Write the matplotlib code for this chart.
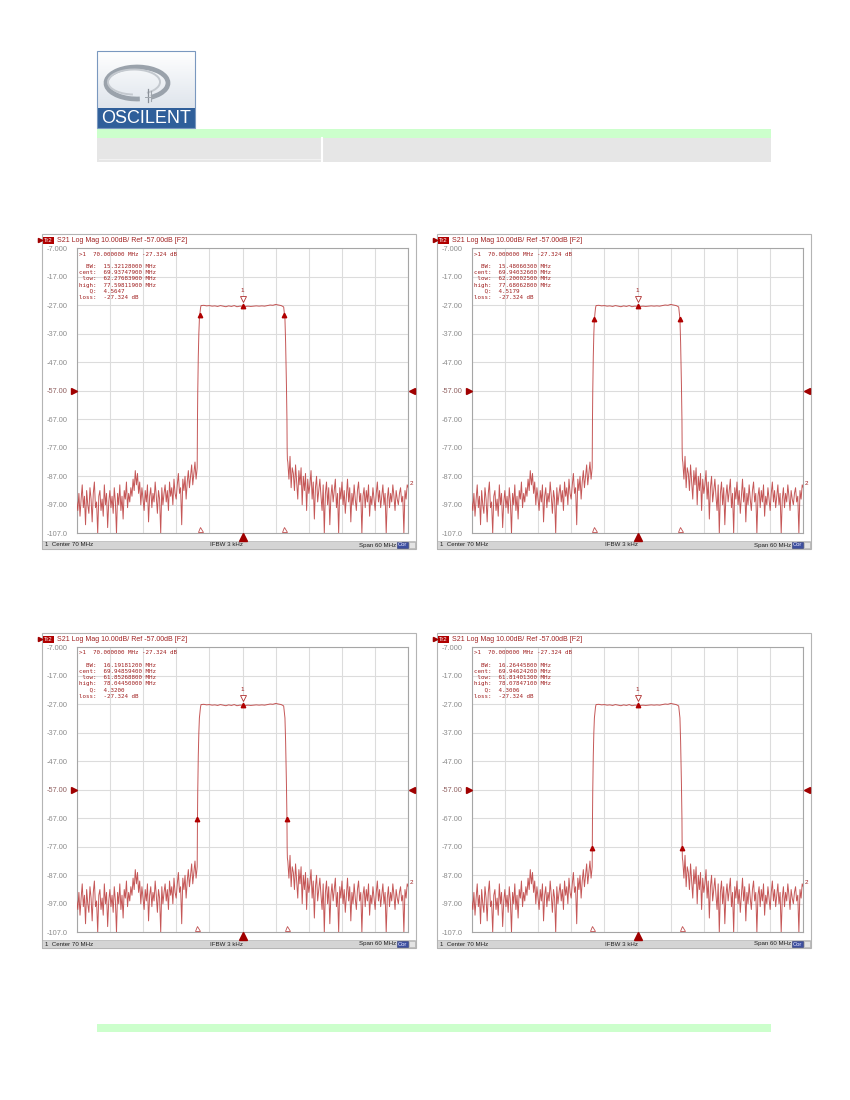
import numpy as np
import matplotlib
matplotlib.use('Agg')
import matplotlib.pyplot as plt
from matplotlib.patches import Rectangle, Arc
from matplotlib.transforms import blended_transform_factory

# ---------------- data ----------------
LEFT_F0, LEFT_F1 = 40.0, 61.8
LEFT_NOISE = [
    -96, -99, -93, -101, -95, -90, -98, -94, -104, -92,
    -97, -100, -91, -95, -103, -93, -89, -98, -96, -107,
    -94, -92, -99, -95, -101, -90, -97, -93, -105, -96,
    -92, -98, -94, -100, -91, -96, -107, -93, -97, -90,
    -99, -94, -102, -92, -95, -89, -98, -93, -96, -91,
    -94, -88, -92, -85, -90, -86, -93, -89, -97, -91,
    -95, -99, -92, -96, -90, -103, -94, -91, -98, -93,
    -96, -89, -94, -100, -92, -95, -107, -91, -97, -93,
    -90, -96, -92, -99, -89, -94, -91, -97, -88, -93,
    -95, -90, -86, -93, -91, -104, -88, -92, -87, -95,
    -89, -85, -91, -87, -83, -90, -86, -82, -88, -84,
]
SKIRT_L_F = [61.814, 61.853, 61.90, 62.00, 62.10, 62.200, 62.277, 62.40]
SKIRT_L_V = [-77.3, -67.3, -58.0, -45.0, -37.0, -31.8, -30.3, -28.0]
PASS_F = [62.5, 63.0, 63.5, 64.0, 64.5, 65.0, 65.5, 66.0, 66.5, 67.0, 67.5,
          68.0, 68.5, 69.0, 69.5, 70.0, 70.5, 71.0, 71.5, 72.0, 72.5, 73.0,
          73.5, 74.0, 74.5, 75.0, 75.5, 76.0, 76.5, 77.0, 77.3]
PASS_V = [-27.1, -27.0, -27.2, -27.1, -27.3, -27.2, -27.4, -27.1, -27.3, -27.5,
          -27.2, -27.4, -27.1, -27.5, -27.3, -27.32, -27.4, -27.3, -27.4, -27.3,
          -27.2, -27.3, -27.2, -27.3, -27.1, -26.9, -27.0, -26.7, -26.9, -27.1,
          -27.4]
SKIRT_R_F = [77.45, 77.598, 77.681, 77.80, 77.95, 78.044, 78.078, 78.12]
SKIRT_R_V = [-27.6, -30.3, -31.8, -40.0, -55.0, -67.3, -77.3, -81.0]
RIGHT_F0, RIGHT_F1 = 78.2, 100.0
RIGHT_NOISE = [
    -82, -88, -80, -91, -84, -86, -92, -83, -89, -95,
    -85, -90, -84, -97, -87, -92, -86, -99, -88, -93,
    -90, -85, -95, -89, -102, -91, -87, -96, -92, -88,
    -94, -99, -90, -107, -93, -89, -97, -91, -104, -94,
    -90, -96, -92, -88, -98, -93, -107, -91, -95, -89,
    -97, -92, -100, -94, -88, -96, -91, -103, -93, -97,
    -90, -95, -99, -92, -89, -96, -93, -107, -94, -91,
    -98, -92, -96, -90, -101, -94, -97, -91, -95, -99,
    -93, -89, -96, -92, -98, -94, -90, -97, -93, -107,
    -95, -91, -98, -93, -96, -90, -94, -99, -92, -95,
    -97, -93, -91, -96, -94, -107, -92, -95, -90, -91,
]

MARKER1_F = 70.0
MARKER1_V = -27.324
PANEL_BW = ["15.32128000", "15.48060300", "16.19181200", "16.26445800"]
PANEL_CENT = ["69.93747900", "69.94032600", "69.94859400", "69.94624200"]
PANEL_LOW = ["62.27683900", "62.20002500", "61.85268800", "61.81401300"]
PANEL_HIGH = ["77.59811900", "77.68062800", "78.04450000", "78.07847100"]
PANEL_Q = ["4.5647", "4.5179", "4.3200", "4.3006"]
PANEL_LEVEL = [-30.3, -31.8, -67.3, -77.3]
YTICKS = [-107, -97, -87, -77, -67, -57, -47, -37, -27, -17, -7]
YTICK_LABELS = ["-107.0", "-97.00", "-87.00", "-77.00", "-67.00", "-57.00",
                "-47.00", "-37.00", "-27.00", "-17.00", "-7.000"]

# ---------------- figure ----------------
W, H = 850, 1100
fig = plt.figure(figsize=(8.5, 11), dpi=100)
page = fig.add_axes([0, 0, 1, 1])
page.set_xlim(0, W)
page.set_ylim(H, 0)
page.axis('off')

DARK = '#a00000'
TXT = '#a02020'

# header bands
page.add_patch(Rectangle((97, 129), 674, 9, fc='#ccffcc', ec='none'))
page.add_patch(Rectangle((97, 138), 674, 24, fc='#e6e6e6', ec='none'))
page.plot([322.5, 322.5], [138, 162], color='white', lw=1.5)
page.plot([99, 320], [158.5, 158.5], color='#f2f2f2', lw=0.8)
page.add_patch(Rectangle((97, 1024), 674, 8, fc='#ccffcc', ec='none'))

# logo
grad = np.linspace(0, 1, 64).reshape(-1, 1)
page.imshow(grad, extent=[97, 195, 108, 51], cmap=matplotlib.colors.LinearSegmentedColormap.from_list(
    'g', ['#ffffff', '#dfe5ec']), aspect='auto', zorder=1)
page.add_patch(Rectangle((97, 108), 98, 19.5, fc='#2f5f9a', ec='none', zorder=2))
page.add_patch(Rectangle((97, 51), 98, 76.5, fc='none', ec='#7a98bf', lw=0.8, zorder=3))
page.text(146, 118.5, "OSCILENT", color='white', fontsize=13, family='Liberation Sans',
          ha='center', va='center', zorder=4)
page.add_patch(Arc((137, 83), 62, 32, theta1=80, theta2=405, color='#9aa2ab', lw=3.4, zorder=3))
page.add_patch(Arc((134, 82), 52, 25, theta1=95, theta2=400, color='#c4c9cf', lw=1.4, zorder=3))
page.plot([148, 148], [89, 102], color='#8a9098', lw=0.9, zorder=4)
page.plot([151, 151], [91, 101], color='#a0a6ad', lw=0.8, zorder=4)
page.plot([145, 155], [97, 97], color='#a0a6ad', lw=0.7, zorder=4)

# trace
freq = np.concatenate([np.linspace(LEFT_F0, LEFT_F1, len(LEFT_NOISE)), SKIRT_L_F, PASS_F,
                       SKIRT_R_F, np.linspace(RIGHT_F0, RIGHT_F1, len(RIGHT_NOISE))])
vals = np.concatenate([LEFT_NOISE, SKIRT_L_V, PASS_V, SKIRT_R_V, RIGHT_NOISE])

PX = [42, 437, 42, 437]
PY = [234, 234, 633, 633]
PW, PH = 374, 315

txt_ax = fig.add_axes([0, 0, 1, 1], zorder=20)
txt_ax.set_xlim(0, W)
txt_ax.set_ylim(H, 0)
txt_ax.axis('off')
txt_ax.patch.set_alpha(0)

for i in range(4):
    x0, y0 = PX[i], PY[i]
    # frame
    page.add_patch(Rectangle((x0, y0), PW, PH, fc='white', ec='#b4b4b4', lw=0.8, zorder=1))
    # status bar
    page.add_patch(Rectangle((x0 + 0.5, y0 + 307), PW - 1, 7.5, fc='#d4d4d4', ec='#a8a8a8', lw=0.4, zorder=2))
    page.text(x0 + 3, y0 + 311, "1  Center 70 MHz", fontsize=4.4, family='Liberation Sans',
              color='#202020', va='center', ha='left', zorder=3)
    page.text(x0 + 184, y0 + 311, "IFBW 3 kHz", fontsize=4.4, family='Liberation Sans',
              color='#202020', va='center', ha='center', zorder=3)
    page.text(x0 + 354, y0 + 311, "Span 60 MHz", fontsize=4.4, family='Liberation Sans',
              color='#202020', va='center', ha='right', zorder=3)
    page.add_patch(Rectangle((x0 + 355, y0 + 307.5), 11, 6.5, fc='#3d4f9f', ec='#2a3570', lw=0.4, zorder=3))
    page.text(x0 + 360.5, y0 + 311, "Cor", fontsize=4.2, family='Liberation Sans',
              color='#e8e8ff', va='center', ha='center', zorder=4)
    page.add_patch(Rectangle((x0 + 367, y0 + 307.5), 6, 6.5, fc='#e4e4e4', ec='#a8a8a8', lw=0.4, zorder=3))
    # header
    page.plot([x0 - 1.5], [y0 + 6], marker='>', ms=3, color=DARK, zorder=4, clip_on=False)
    page.add_patch(Rectangle((x0 + 1, y0 + 2.5), 11, 7, fc='#b00000', ec='none', zorder=3))
    page.text(x0 + 6.5, y0 + 6.2, "Tr2", fontsize=4.2, family='Liberation Sans', color='white',
              ha='center', va='center', zorder=4)
    page.text(x0 + 15, y0 + 6.2, "S21 Log Mag 10.00dB/ Ref -57.00dB [F2]", fontsize=5,
              family='Liberation Sans', color=TXT, ha='left', va='center', zorder=4)

    # plot axes
    axl, axt, axw, axh = x0 + 34.7, y0 + 14.3, 331.6, 285.0
    ax = fig.add_axes([axl / W, 1 - (axt + axh) / H, axw / W, axh / H])
    ax.set_facecolor('white')
    ax.set_xlim(40, 100)
    ax.set_ylim(-107, -7)
    ax.set_xticks(np.arange(40, 101, 6))
    ax.set_xticklabels([])
    ax.set_yticks(YTICKS)
    ax.set_yticklabels(YTICK_LABELS)
    ax.tick_params(length=0, labelsize=5.3, labelcolor='#8c8c8c', pad=6.5)
    for lab in ax.get_yticklabels():
        lab.set_family('Liberation Sans')
    ax.get_yticklabels()[5].set_color('#906060')
    ax.grid(True, color='#dcdcdc', lw=0.8)
    for s in ax.spines.values():
        s.set_color('#a6a6a6')
        s.set_linewidth(0.8)

    ax.plot(freq, vals, color='#bf4545', lw=0.7, alpha=0.9, zorder=3)

    # markers
    lo, hi, lv = float(PANEL_LOW[i]), float(PANEL_HIGH[i]), PANEL_LEVEL[i]
    ax.plot([lo, hi], [lv, lv], ls='none', marker='^', ms=3.2, color='#b00000', zorder=4)
    ax.plot([MARKER1_F], [MARKER1_V], ls='none', marker='^', ms=3.2, color='#b00000', zorder=4)
    ax.plot([MARKER1_F], [MARKER1_V + 2.6], ls='none', marker='v', ms=3.8, mfc='white',
            mec='#b03030', mew=0.6, zorder=4)
    ax.text(MARKER1_F, MARKER1_V + 5.6, "1", fontsize=4.5, color=TXT, ha='center', va='center',
            family='Liberation Sans', zorder=4)
    ax.plot([lo, hi], [-105.6, -105.6], ls='none', marker='^', ms=3.6, mfc='white',
            mec='#c05050', mew=0.6, zorder=4)

    tb = blended_transform_factory(ax.transData, ax.transAxes)
    ax.plot([MARKER1_F], [-0.012], transform=tb, marker='^', ms=5.5, color=DARK,
            clip_on=False, zorder=5)
    ty = blended_transform_factory(ax.transAxes, ax.transData)
    ax.plot([-0.007], [-57], transform=ty, marker='>', ms=4.5, color=DARK, clip_on=False, zorder=5)
    ax.plot([1.012], [-57], transform=ty, marker='<', ms=4.5, color=DARK, clip_on=False, zorder=5)
    ax.text(1.004, -89.5, "2", transform=ty, fontsize=4.5, color=TXT, ha='left', va='center',
            family='Liberation Sans')

    # info text
    lines = [
        ">1  70.000000 MHz -27.324 dB",
        "  BW:  %s MHz" % PANEL_BW[i],
        "cent:  %s MHz" % PANEL_CENT[i],
        " low:  %s MHz" % PANEL_LOW[i],
        "high:  %s MHz" % PANEL_HIGH[i],
        "   Q:  %s" % PANEL_Q[i],
        "loss:  -27.324 dB",
    ]
    ys = [y0 + 20, y0 + 32.7, y0 + 38.8, y0 + 44.9, y0 + 51, y0 + 57.1, y0 + 63.3]
    for ln, yy in zip(lines, ys):
        txt_ax.text(x0 + 37, yy, ln, fontsize=4.2, family='DejaVu Sans Mono', color=TXT,
                    ha='left', va='center')

fig.savefig('out.png', dpi=100)
